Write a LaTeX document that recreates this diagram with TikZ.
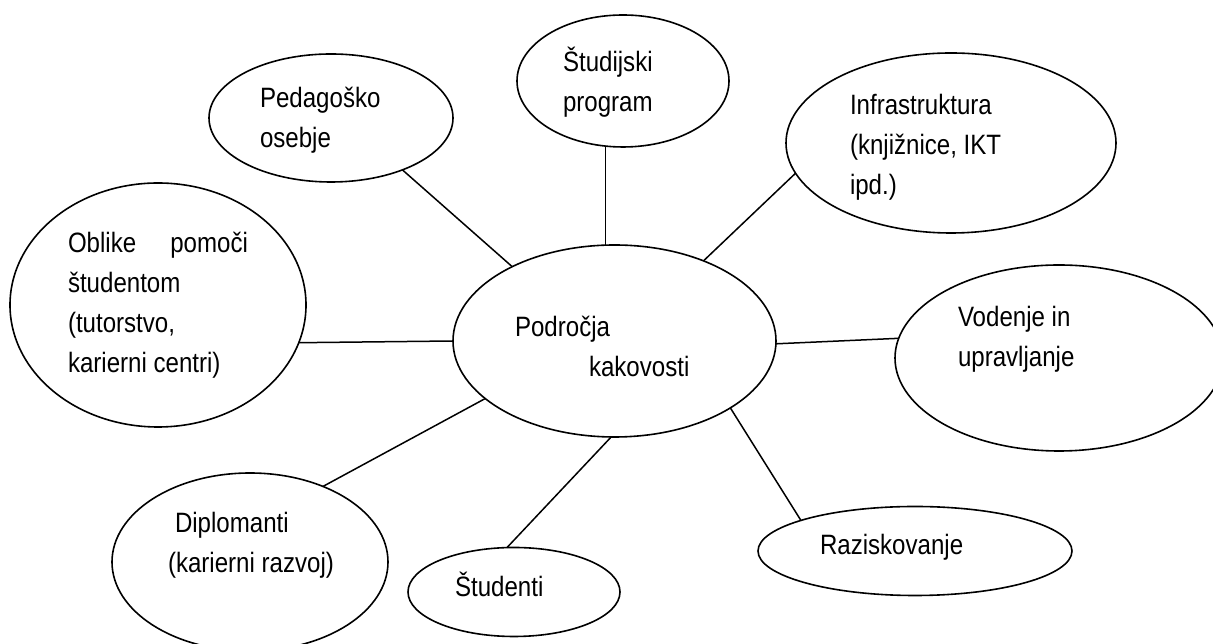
\documentclass[tikz,border=0pt]{standalone}
\usepackage{fontspec}
\setmainfont[FakeStretch=0.86]{Liberation Sans}
\usepackage{tikz}
\usetikzlibrary{positioning,shapes}
\tikzstyle{area}=[ellipse, draw=black, line width=1.6pt, inner sep=0pt, outer sep=0pt]
\tikzstyle{areatext}=[anchor=north west, align=left, inner sep=0pt, outer sep=0pt,
        font=\fontsize{28}{40}\selectfont]
\tikzstyle{link}=[draw=black, line width=1.5pt]
\newcommand{\topline}{\rule{0pt}{30pt}}

\begin{document}
\begin{tikzpicture}[x=1pt, y=1pt, node distance=1pt, on grid]
        \useasboundingbox (0,0) rectangle (1213,644);
        % centre
        \node (podrocja) [area, minimum width=323pt, minimum height=192pt] at (614.5,303) {};
        % areas round it
        \node (pedagosko) [area, minimum width=244pt, minimum height=128pt, above left=223pt and 283.5pt of podrocja] {};
        \node (studijski) [area, minimum width=212pt, minimum height=132pt, above right=260pt and 8.5pt of podrocja] {};
        \node (infra) [area, minimum width=330pt, minimum height=180pt, above right=198pt and 336.5pt of podrocja] {};
        \node (oblike) [area, minimum width=296pt, minimum height=244pt, above left=36pt and 456.5pt of podrocja] {};
        \node (vodenje) [area, minimum width=328pt, minimum height=186pt, below right=17pt and 444.5pt of podrocja] {};
        \node (diplomanti) [area, minimum width=276pt, minimum height=178pt, below left=221pt and 364.5pt of podrocja] {};
        \node (studenti) [area, minimum width=212pt, minimum height=89pt, below left=251pt and 100.5pt of podrocja] {};
        \node (raziskovanje) [area, minimum width=314pt, minimum height=89pt, below right=210pt and 300.5pt of podrocja] {};

        % texts
        \node (podrocja-txt) [areatext] at (515,337) {\topline Področja\\ \hspace*{74pt}kakovosti};
        \node (pedagosko-txt) [areatext] at (260,566) {\topline Pedagoško\\osebje};
        \node (studijski-txt) [areatext] at (563,602) {\topline Študijski\\program};
        \node (infra-txt) [areatext] at (850,559) {\topline Infrastruktura\\(knjižnice, IKT\\ipd.)};
        \node (oblike-txt) [areatext] at (68,421) {\topline\hbox to 180pt{Oblike\hfill pomoči}\\študentom\\(tutorstvo,\\karierni centri)};
        \node (vodenje-txt) [areatext] at (958,347) {\topline Vodenje in\\upravljanje};
        \node (diplomanti-txt) [areatext] at (168,141) {\topline\hspace*{7pt}Diplomanti\\(karierni razvoj)};
        \node (studenti-txt) [areatext] at (455,77) {\topline Študenti};
        \node (raziskovanje-txt) [areatext] at (820,119) {\topline Raziskovanje};

        % connectors
        \draw[link] (pedagosko.-36.7) -- (podrocja.144.8);
        \draw[link] (studijski.-105) -- (studijski.-105 |- podrocja.north);
        \draw[link] (infra.191.5) -- (podrocja.42.8);
        \draw[link] (oblike.-15.1) -- (podrocja.west);
        \draw[link] (vodenje.173.7) -- (podrocja.-1);
        \draw[link] (diplomanti.46.8) -- (podrocja.-156.5);
        \draw[link] (studenti.99) -- (podrocja.-92.7);
        \draw[link] (raziskovanje.165.5) -- (podrocja.-30.7);
\end{tikzpicture}
\end{document}
